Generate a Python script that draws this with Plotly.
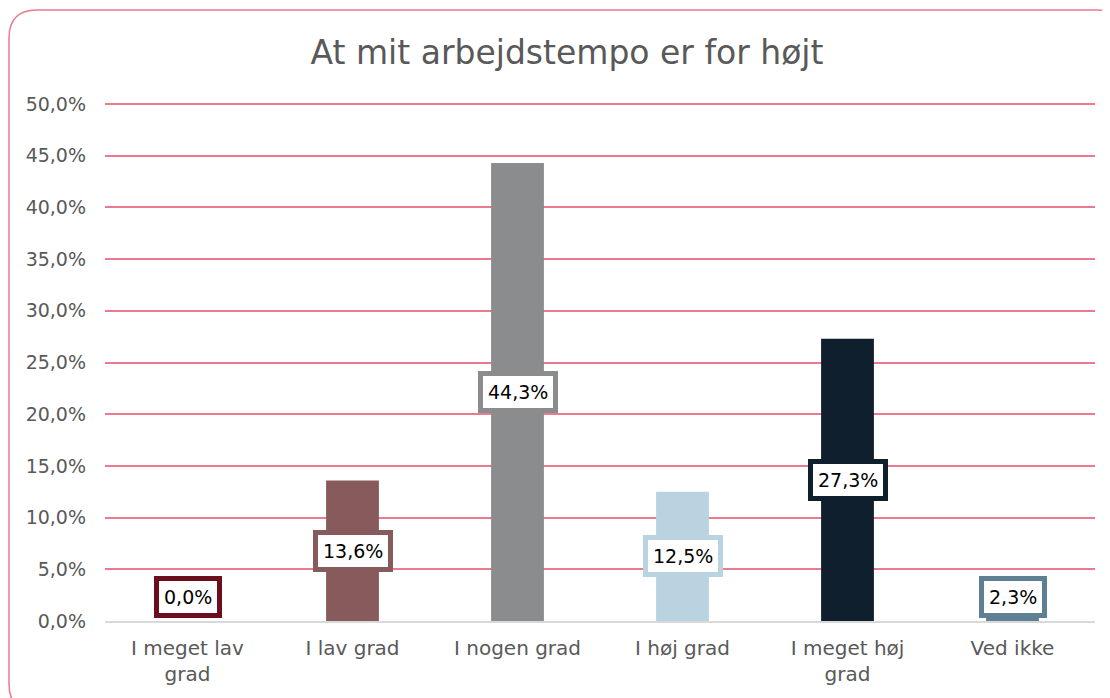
import plotly.graph_objects as go

categories = ["I meget lav<br>grad", "I lav grad", "I nogen grad", "I høj grad", "I meget høj<br>grad", "Ved ikke"]
values = [0.0, 13.6, 44.3, 12.5, 27.3, 2.3]
colors = ["#6b0f1f", "#875a5b", "#8a8c8e", "#b9d3e0", "#0f1f2d", "#5f7f93"]
tick_vals = [0, 5, 10, 15, 20, 25, 30, 35, 40, 45, 50]
tick_text = ["0,0%", "5,0%", "10,0%", "15,0%", "20,0%", "25,0%", "30,0%", "35,0%", "40,0%", "45,0%", "50,0%"]
title = "At mit arbejdstempo er for højt"

# page body has an 8px margin, so the figure is drawn at (8, 8)
OFF = 8
W, H = 1110 - OFF, 698 - OFF
YMAX = 50.2  # a little headroom so the 50% gridline is drawn in full
L, R, T, B = 105 - OFF, 15, 104 - OFF - 2, 77
pw, ph = W - L - R, H - T - B

def px(x):
    return (x - OFF - L) / pw

def py(y):
    return (H - B - (y - OFF)) / ph

fig = go.Figure()
fig.add_trace(go.Bar(x=categories, y=values, marker=dict(color=colors, line=dict(width=0)),
                     width=0.32, hoverinfo="skip"))

for c, v, col in zip(categories, values, colors):
    fig.add_annotation(x=c, y=max(v / 2, 2.3), text=f"{v:.1f}".replace(".", ",") + "%",
                       showarrow=False, bgcolor="white", bordercolor=col, borderwidth=5,
                       borderpad=5, font=dict(family="DejaVu Sans", size=19, color="black"))

# rounded frame (reference pixel coordinates)
x0, y0, x1, y1, r = 9, 10, 1125, 712, 28
path = (f"M {px(x0+r)},{py(y0)} L {px(x1-r)},{py(y0)} "
        f"Q {px(x1)},{py(y0)} {px(x1)},{py(y0+r)} "
        f"L {px(x1)},{py(y1-r)} Q {px(x1)},{py(y1)} {px(x1-r)},{py(y1)} "
        f"L {px(x0+r)},{py(y1)} Q {px(x0)},{py(y1)} {px(x0)},{py(y1-r)} "
        f"L {px(x0)},{py(y0+r)} Q {px(x0)},{py(y0)} {px(x0+r)},{py(y0)} Z")
fig.add_shape(type="path", path=path, xref="paper", yref="paper",
              line=dict(color="#ea7a8c", width=1.5), layer="below")

fig.update_layout(
    width=W, height=H,
    margin=dict(l=L, r=R, t=T, b=B),
    paper_bgcolor="white", plot_bgcolor="white",
    showlegend=False,
    title=dict(text=title, x=(567 - OFF) / W, xref="container", y=1 - (52 - OFF) / H,
               yref="container", yanchor="middle", xanchor="center",
               font=dict(family="DejaVu Sans", size=33, color="#595959")),
    font=dict(family="DejaVu Sans", color="#595959"),
)
fig.update_xaxes(showgrid=False, showline=True, linecolor="#d9d9d9", linewidth=2,
                 tickfont=dict(size=20, color="#595959"), ticks="", ticklabelstandoff=8)
fig.update_yaxes(range=[0, YMAX], tickvals=tick_vals, ticktext=tick_text, showgrid=True,
                 gridcolor="#ea7a8c", gridwidth=1.5, zeroline=False, showline=False,
                 tickfont=dict(size=19, color="#595959"), ticklabelstandoff=18)

fig.write_html("out.html")
